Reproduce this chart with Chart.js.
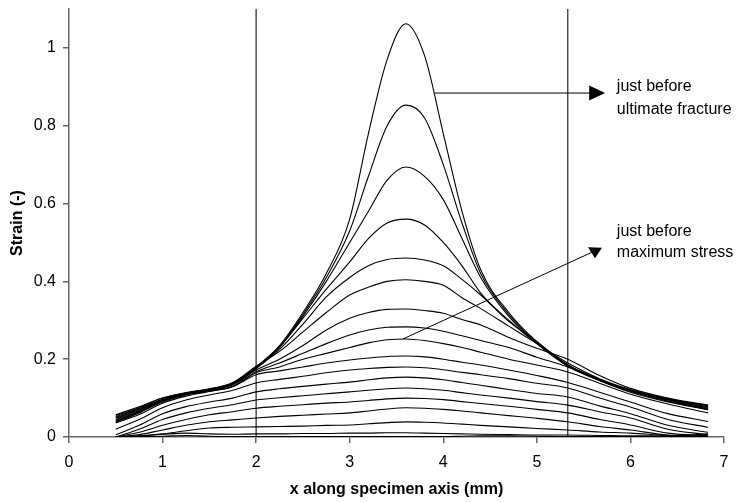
<!DOCTYPE html>
<html><head><meta charset="utf-8">
<script src="https://cdn.jsdelivr.net/npm/chart.js@4"></script>
<style>html,body{margin:0;padding:0;background:#fff}</style>
</head><body>
<canvas id="c" width="740" height="502"></canvas>
<script>
// shared x positions (mm)
const xs = [0.5,0.75,1.0,1.25,1.5,1.75,2.0,2.25,2.5,2.75,3.0,3.2,3.4,3.6,3.8,4.0,4.2,4.4,4.7,5.0,5.33,5.67,6.0,6.4,6.83];
// strain profiles, from last (just before fracture) down to first
const curveA = [.045,.068,.095,.112,.122,.138,.18,.235,.32,.42,.56,.78,.97,1.062,.98,.78,.58,.43,.32,.245,.185,.148,.12,.097,.078];
const curveB = [.042,.066,.093,.11,.121,.137,.178,.232,.315,.41,.53,.67,.80,.853,.82,.70,.55,.42,.315,.243,.185,.147,.12,.095,.074];
const curveC = [.04,.064,.092,.109,.12,.136,.177,.23,.31,.40,.50,.58,.66,.694,.67,.61,.51,.41,.31,.24,.183,.146,.118,.093,.072];
const curveD = [.05,.072,.097,.113,.123,.139,.18,.232,.305,.38,.45,.51,.55,.56,.545,.50,.44,.37,.30,.24,.182,.145,.117,.092,.07];
const curveE = [.038,.062,.09,.108,.119,.135,.176,.225,.29,.36,.41,.44,.456,.46,.455,.44,.405,.365,.297,.245,.185,.148,.12,.096,.076];
const curveF = [.055,.075,.1,.114,.124,.14,.182,.22,.27,.32,.365,.385,.4,.404,.4,.39,.358,.33,.285,.24,.19,.15,.122,.098,.08];
const curveG = [.048,.07,.094,.11,.12,.134,.172,.2,.235,.275,.305,.32,.328,.329,.325,.318,.302,.288,.256,.228,.2,.158,.125,.1,.082];
const curveH = [.052,.073,.096,.11,.118,.13,.168,.19,.215,.24,.262,.275,.282,.283,.28,.272,.26,.248,.23,.205,.18,.145,.115,.09,.07];
const curveI = [.057,.078,.1,.112,.12,.13,.165,.18,.2,.215,.23,.242,.25,.252,.248,.24,.23,.218,.2,.185,.167,.138,.11,.085,.062];
const curveJ = [.036,.058,.087,.105,.117,.13,.16,.17,.18,.19,.198,.203,.207,.208,.206,.2,.192,.185,.172,.158,.14,.115,.09,.06,.04];
const curveK = [.02,.045,.075,.095,.108,.12,.139,.148,.156,.165,.172,.176,.179,.18,.178,.173,.166,.16,.15,.138,.126,.1,.077,.045,.025];
const curveL = [.006,.03,.06,.078,.09,.1,.116,.124,.13,.136,.141,.147,.152,.154,.152,.147,.14,.133,.122,.112,.103,.08,.06,.03,.012];
const curveM = [0,.02,.045,.062,.074,.083,.095,.101,.106,.111,.116,.12,.124,.126,.124,.12,.114,.108,.1,.091,.082,.065,.049,.02,.006];
const curveN = [0,.012,.03,.045,.057,.065,.074,.079,.083,.087,.09,.094,.098,.1,.099,.096,.091,.086,.079,.071,.062,.045,.031,.01,.003];
const curveO = [0,.006,.018,.03,.039,.044,.049,.053,.056,.059,.062,.067,.072,.075,.074,.071,.067,.062,.055,.048,.039,.027,.018,.005,.001];
const curveP = [0,.002,.008,.016,.023,.025,.026,.027,.028,.03,.031,.034,.037,.039,.038,.036,.033,.03,.026,.022,.018,.013,.01,.004,.001];
const curveQ = [0,.003,.007,.01,.008,.007,.008,.008,.009,.009,.01,.01,.011,.011,.01,.009,.008,.007,.006,.005,.005,.004,.003,.003,.008];
const curveR = [0,.001,.002,.004,.002,.001,.001,.001,.001,.001,.001,.001,.001,.001,.001,.001,.002,.003,.003,.002,.001,.001,.001,.001,.001];

// vertical marker lines (mm)
const markerX = [2, 5.33];
// axis ticks
const xTicks = [0,1,2,3,4,5,6,7];
const yTicks = [0,0.2,0.4,0.6,0.8,1];
// annotations (data units)
const arrow1Start = [3.91, 0.884], arrow1End = [5.73, 0.884];
const arrow2Start = [3.57, 0.252], arrow2End = [5.6, 0.476];
const label1 = ['just before', 'ultimate fracture'], label1Pos = [5.855, 0.90, 0.841];
const label2 = ['just before', 'maximum stress'], label2Pos = [5.855, 0.527, 0.473];

const curves = [curveA,curveB,curveC,curveD,curveE,curveF,curveG,curveH,curveI,curveJ,curveK,curveL,curveM,curveN,curveO,curveP,curveQ,curveR];

const datasets = curves.map(c => ({
  data: xs.map((x,i) => ({x, y: c[i]})),
  borderColor: '#000', borderWidth: 1.1, pointRadius: 0,
  cubicInterpolationMode: 'monotone', fill: false
}));
markerX.forEach(mx => datasets.push({
  data: [{x: mx, y: 0}, {x: mx, y: 1.1}],
  borderColor: '#444', borderWidth: 1.4, pointRadius: 0, tension: 0
}));

const FONT = '"Liberation Sans", Arial, sans-serif';
Chart.defaults.font.family = FONT;
Chart.defaults.color = '#000';

const annoPlugin = {
  id: 'anno',
  afterDatasetsDraw(chart) {
    const {ctx, scales: {x, y}} = chart;
    const P = p => [x.getPixelForValue(p[0]), y.getPixelForValue(p[1])];
    ctx.save();
    ctx.strokeStyle = '#000'; ctx.fillStyle = '#000'; ctx.lineWidth = 1;
    // arrow 1
    let s = P(arrow1Start), e = P(arrow1End);
    ctx.beginPath(); ctx.moveTo(s[0], s[1]); ctx.lineTo(e[0] - 12, e[1]); ctx.stroke();
    ctx.beginPath(); ctx.moveTo(e[0], e[1]); ctx.lineTo(e[0] - 16, e[1] - 7.5); ctx.lineTo(e[0] - 16, e[1] + 7.5); ctx.closePath(); ctx.fill();
    // arrow 2
    s = P(arrow2Start); e = P(arrow2End);
    ctx.beginPath(); ctx.moveTo(s[0], s[1]); ctx.lineTo(e[0], e[1]); ctx.stroke();
    ctx.beginPath(); ctx.moveTo(e[0] - 5, e[1] - 4.5); ctx.lineTo(e[0] + 9, e[1] - 4); ctx.lineTo(e[0] + 2, e[1] + 6.5); ctx.closePath(); ctx.fill();
    // labels
    ctx.font = '16px ' + FONT;
    ctx.textAlign = 'left'; ctx.textBaseline = 'middle';
    const lx = x.getPixelForValue(label1Pos[0]);
    ctx.fillText(label1[0], lx, y.getPixelForValue(label1Pos[1]));
    ctx.fillText(label1[1], lx, y.getPixelForValue(label1Pos[2]));
    ctx.fillText(label2[0], lx, y.getPixelForValue(label2Pos[1]));
    ctx.fillText(label2[1], lx, y.getPixelForValue(label2Pos[2]));
    ctx.restore();
  }
};

new Chart(document.getElementById('c'), {
  type: 'line',
  data: {datasets},
  options: {
    responsive: false, animation: false,
    layout: {padding: {top: 9, right: 16, left: 0, bottom: 0}},
    plugins: {legend: {display: false}, tooltip: {enabled: false}},
    scales: {
      x: {
        type: 'linear', min: 0, max: 7,
        afterBuildTicks: s => { s.ticks = xTicks.map(v => ({value: v})); },
        afterFit: s => { s.height = 65; s.paddingLeft = 0; s.paddingRight = 0; },
        ticks: {font: {size: 16}, color: '#000', padding: 10, maxRotation: 0, callback: v => String(v)},
        grid: {drawOnChartArea: false, drawTicks: true, tickLength: 6, color: '#666', lineWidth: 1.5},
        border: {display: true, color: '#666', width: 1.5},
        title: {display: true, text: 'x along specimen axis (mm)', font: {size: 16, weight: 'bold'}, color: '#000', padding: {top: 4, bottom: 3}}
      },
      y: {
        type: 'linear', min: 0, max: 1.1,
        afterBuildTicks: s => { s.ticks = yTicks.map(v => ({value: v})); },
        afterFit: s => { s.width = 69; s.paddingTop = 0; s.paddingBottom = 0; },
        ticks: {font: {size: 16}, color: '#000', padding: 7, callback: v => String(v)},
        grid: {drawOnChartArea: false, drawTicks: true, tickLength: 6, color: '#666', lineWidth: 1.5},
        border: {display: true, color: '#666', width: 1.5},
        title: {display: true, text: 'Strain (-)', font: {size: 16, weight: 'bold'}, color: '#000', padding: {top: 8, bottom: 0}}
      }
    }
  },
  plugins: [annoPlugin]
});
</script>
</body></html>
